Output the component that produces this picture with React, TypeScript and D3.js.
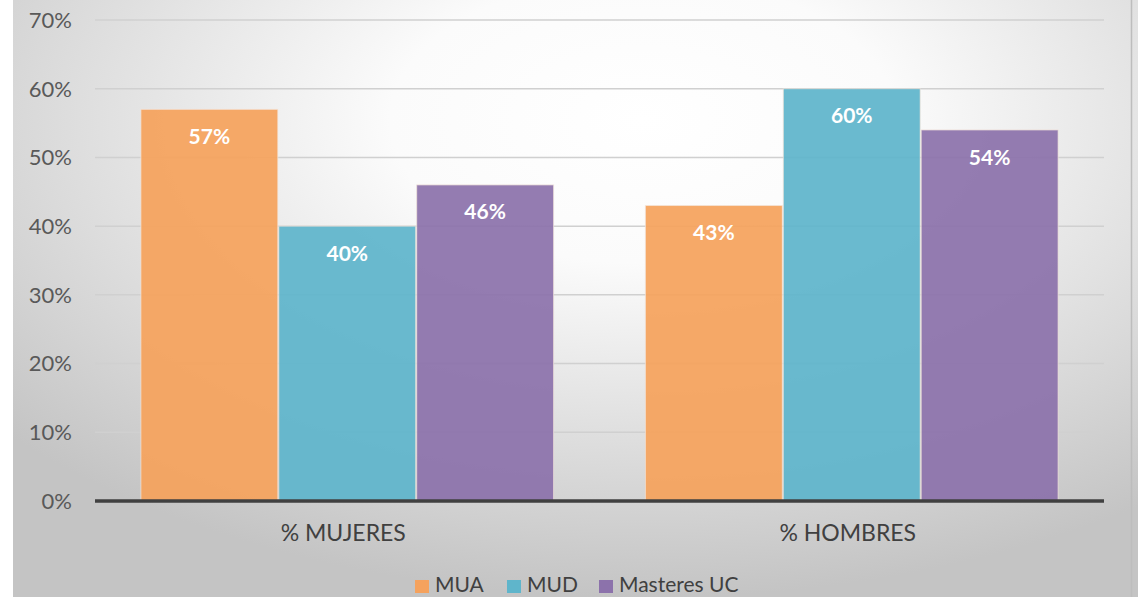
import React from "react";
import * as d3 from "d3";

const categories = ["% MUJERES", "% HOMBRES"];
const seriesNames = ["MUA", "MUD", "Masteres UC"];
const MUA = [57, 43];
const MUD = [40, 60];
const MastersUC = [46, 54];
const yTicks = [0, 10, 20, 30, 40, 50, 60, 70];
const colors = ["#F5A25D", "#5FB5CB", "#8C72AB"];

export default function App() {
  const W = 1138, H = 597;
  const left = 95, right = 1104, top = 20, bottom = 501;
  const series = [MUA, MUD, MastersUC];
  const x0 = d3.scaleBand<string>().domain(categories).range([left, right]).paddingInner(0.18).paddingOuter(0.09);
  const x1 = d3.scaleBand<string>().domain(seriesNames).range([0, x0.bandwidth()]).padding(0);
  const y = d3.scaleLinear().domain([0, 70]).range([bottom, top]);
  const font = "Lato, 'Open Sans', sans-serif";
  const legendX = [415, 507, 599];
  return (
    <svg width={W} height={H} style={{ position: "absolute", left: 0, top: 0 }}>
      <defs>
        <radialGradient id="bg" cx="0.56" cy="0.22" r="0.75" gradientUnits="objectBoundingBox">
          <stop offset="0" stopColor="#ffffff" />
          <stop offset="0.3" stopColor="#fbfbfb" />
          <stop offset="1" stopColor="#c4c4c4" />
        </radialGradient>
      </defs>
      <rect x={0} y={0} width={W} height={H} fill="#ffffff" />
      <rect x={13} y={-20} width={W - 13} height={H + 40} fill="url(#bg)" />
      <line x1={1131.5} x2={1131.5} y1={0} y2={H} stroke="#bdbdbd" strokeWidth={1.5} />
      {yTicks.map((t) => (
        <g key={t}>
          {t > 0 && <line x1={left} x2={right} y1={y(t)} y2={y(t)} stroke="#d0d0d0" strokeWidth={1.5} />}
          <text x={72} y={y(t)} dy="0.36em" textAnchor="end" fontFamily={font} fontSize={22} fill="#595959">{t}%</text>
        </g>
      ))}
      {categories.map((c, ci) => (
        <g key={c}>
          {series.map((s, si) => {
            const bx = (x0(c) as number) + (x1(seriesNames[si]) as number);
            const bw = x1.bandwidth();
            return (
              <g key={si}>
                <rect x={bx + 0.5} y={y(s[ci])} width={bw - 1} height={bottom - y(s[ci])} fill={colors[si]} fillOpacity={0.93} stroke="#f3e6dc" strokeOpacity={0.7} strokeWidth={1} />
                <text x={bx + bw / 2} y={y(s[ci]) + 27} dy="0.36em" textAnchor="middle" fontFamily={font} fontWeight="bold" fontSize={21} fill="#ffffff">{s[ci]}%</text>
              </g>
            );
          })}
          <text x={(x0(c) as number) + x0.bandwidth() / 2 - 4} y={533} dy="0.36em" textAnchor="middle" fontFamily={font} fontSize={23} fill="#404040">{c}</text>
        </g>
      ))}
      <line x1={left} x2={right} y1={bottom} y2={bottom} stroke="#404040" strokeWidth={3.5} />
      {legendX.map((lx, i) => (
        <g key={i}>
          <rect x={lx} y={580} width={14} height={13} fill={colors[i]} />
          <text x={lx + 20} y={592} fontFamily={font} fontSize={21} fill="#404040">{seriesNames[i]}</text>
        </g>
      ))}
    </svg>
  );
}
